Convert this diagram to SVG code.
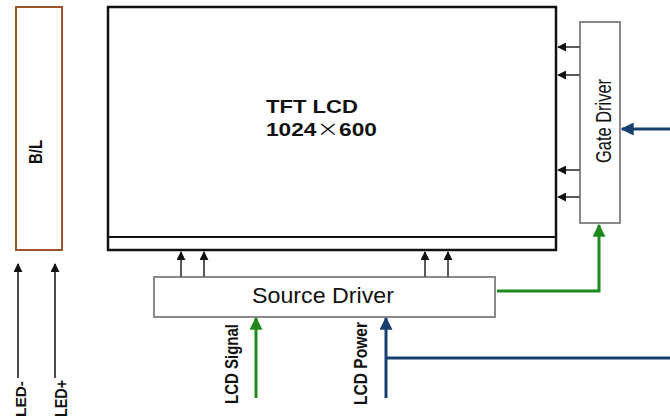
<svg xmlns="http://www.w3.org/2000/svg" width="670" height="418" viewBox="0 0 670 418">
<style>
text{font-family:"Liberation Sans",Arial,sans-serif;fill:#111}
.b{font-weight:bold}
.k{stroke:#111;stroke-width:1.5;fill:none}
.g{stroke:#5a5a5a;stroke-width:2;fill:none}
.gr{stroke:#1e8a1e;stroke-width:3;fill:none}
.bl{stroke:#163f70;stroke-width:3;fill:none}
</style>
<defs>
<marker id="ak" viewBox="0 0 10 10" refX="9" refY="5" markerWidth="9" markerHeight="9" markerUnits="userSpaceOnUse" orient="auto"><path d="M0,0L10,5L0,10z" fill="#111"/></marker>
<marker id="agr" viewBox="0 0 10 10" refX="9" refY="5" markerWidth="13" markerHeight="13" markerUnits="userSpaceOnUse" orient="auto"><path d="M0,0L10,5L0,10z" fill="#1e8a1e"/></marker>
<marker id="abl" viewBox="0 0 10 10" refX="9" refY="5" markerWidth="13" markerHeight="13" markerUnits="userSpaceOnUse" orient="auto"><path d="M0,0L10,5L0,10z" fill="#163f70"/></marker>
</defs>
<g id="bl">
<rect x="16" y="7" width="46" height="243" fill="#fff" stroke="#a0522d" stroke-width="2"/>
<text class="b" font-size="19" transform="translate(42,152) rotate(-90)" text-anchor="middle" textLength="24" lengthAdjust="spacingAndGlyphs">B/L</text>
</g>
<g id="lcd">
<rect x="108" y="7" width="448" height="243" fill="#fff" stroke="#111" stroke-width="2.5"/>
<line x1="108" y1="237" x2="556" y2="237" stroke="#111" stroke-width="2"/>
<text class="b" font-size="19" x="266" y="113" textLength="92" lengthAdjust="spacingAndGlyphs">TFT LCD</text>
<text class="b" font-size="18" x="266" y="136" textLength="111" lengthAdjust="spacingAndGlyphs">1024<tspan font-family="'Noto Sans CJK SC',sans-serif" font-weight="normal">×</tspan>600</text>
</g>
<g id="gate">
<rect x="580" y="22" width="40" height="201" fill="#fff" stroke="#8a8a8a" stroke-width="2"/>
<text font-size="22" transform="translate(611,121) rotate(-90)" text-anchor="middle" textLength="84" lengthAdjust="spacingAndGlyphs">Gate Driver</text>
</g>
<g id="source">
<rect x="154" y="277" width="341" height="40" fill="#fff" stroke="#8a8a8a" stroke-width="2"/>
<text font-size="22" x="252" y="303" textLength="142" lengthAdjust="spacingAndGlyphs" fill="#333">Source Driver</text>
</g>
<g id="labels">
<text class="b" font-size="15" transform="translate(26,417) rotate(-90)" textLength="36" lengthAdjust="spacingAndGlyphs">LED-</text>
<text class="b" font-size="16" transform="translate(67,417) rotate(-90)" textLength="37" lengthAdjust="spacingAndGlyphs">LED+</text>
<text class="b" font-size="18" transform="translate(238,404) rotate(-90)" textLength="80" lengthAdjust="spacingAndGlyphs">LCD Signal</text>
<text class="b" font-size="18" transform="translate(367,405) rotate(-90)" textLength="83" lengthAdjust="spacingAndGlyphs">LCD Power</text>
</g>
<g id="connectors">
<line class="k" x1="18" y1="378" x2="18" y2="264" marker-end="url(#ak)"/>
<line class="k" x1="55" y1="378" x2="55" y2="264" marker-end="url(#ak)"/>
<line class="g" x1="181" y1="277" x2="181" y2="252" marker-end="url(#ak)"/>
<line class="g" x1="204" y1="277" x2="204" y2="252" marker-end="url(#ak)"/>
<line class="g" x1="425" y1="277" x2="425" y2="252" marker-end="url(#ak)"/>
<line class="g" x1="448" y1="277" x2="448" y2="252" marker-end="url(#ak)"/>
<line class="g" x1="580" y1="47" x2="558" y2="47" marker-end="url(#ak)"/>
<line class="g" x1="580" y1="75" x2="558" y2="75" marker-end="url(#ak)"/>
<line class="g" x1="580" y1="170" x2="558" y2="170" marker-end="url(#ak)"/>
<line class="g" x1="580" y1="197" x2="558" y2="197" marker-end="url(#ak)"/>
<path class="gr" d="M497,291H599V225" marker-end="url(#agr)"/>
<line class="bl" x1="670" y1="129" x2="622" y2="129" marker-end="url(#abl)"/>
<line class="gr" x1="256" y1="398" x2="256" y2="318" marker-end="url(#agr)"/>
<line class="bl" x1="386" y1="398" x2="386" y2="318" marker-end="url(#abl)"/>
<line class="bl" x1="386" y1="358" x2="670" y2="358"/>
</g>
</svg>
